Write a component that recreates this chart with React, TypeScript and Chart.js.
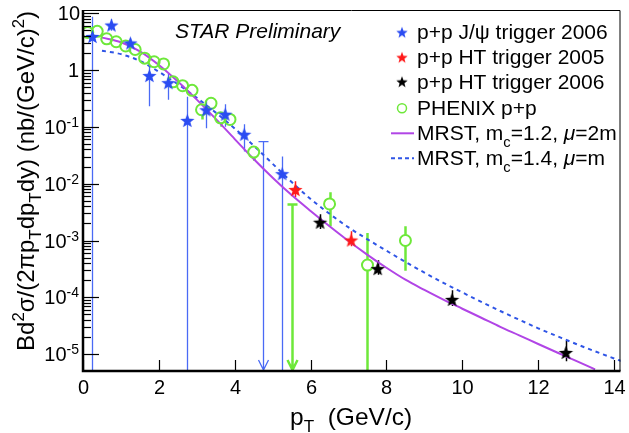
import React, { useEffect, useRef } from 'react';
import { Chart, registerables } from 'chart.js';

Chart.register(...registerables);

const FONT = '"Liberation Sans", Arial, Helvetica, sans-serif';

// ---- STAR p+p J/psi trigger 2006 (blue stars); lo = 0 means the bar runs down to the axis
const jpsiX = [0.25, 0.75, 1.25, 1.75, 2.25, 2.75, 3.25, 3.75, 4.25, 5.25];
const jpsiY = [3.9, 6.2, 3.0, 0.8, 0.6, 0.13, 0.2, 0.167, 0.074, 0.015];
const jpsiHi = [8.7, 7.8, 3.6, 1.3, 0.85, 0.34, 0.3, 0.25, 0.111, 0.03];
const jpsiLo = [0, 4.9, 2.0, 0.23, 0.3, 0, 0.095, 0.1, 0.037, 0];
const jpsiLimX = [4.75];
const jpsiLimY = [0.055];

// ---- STAR p+p HT trigger 2005 (red stars)
const ht05X = [5.6, 7.07];
const ht05Y = [7.9e-3, 1.02e-3];
const ht05Hi = [0.011, 1.45e-3];
const ht05Lo = [5.8e-3, 7.9e-4];

// ---- STAR p+p HT trigger 2006 (black stars)
const ht06X = [6.25, 7.77, 9.73, 12.73];
const ht06Y = [2.1e-3, 3.2e-4, 9.2e-5, 1.07e-5];
const ht06Hi = [2.9e-3, 4.5e-4, 1.33e-4, 1.7e-5];
const ht06Lo = [1.6e-3, 2.5e-4, 7e-5, 7.5e-6];

// ---- PHENIX p+p (open green circles)
const phenixX = [0.125, 0.375, 0.625, 0.875, 1.125, 1.375, 1.625, 1.875, 2.125, 2.375, 2.625, 2.875, 3.125, 3.375, 3.625, 3.875, 4.5, 6.5, 7.5, 8.5];
const phenixY = [4.6, 4.8, 3.55, 3.15, 2.65, 2.3, 1.62, 1.4, 1.28, 0.62, 0.53, 0.44, 0.2, 0.26, 0.144, 0.135, 0.036, 4.4e-3, 3.7e-4, 1.0e-3];
const phenixHi = [4.9, 5.1, 3.8, 3.35, 2.8, 2.45, 1.72, 1.5, 1.37, 0.66, 0.57, 0.47, 0.215, 0.28, 0.155, 0.145, 0.04, 7.1e-3, 1.35e-3, 1.78e-3];
const phenixLo = [4.3, 4.5, 3.3, 2.95, 2.5, 2.15, 1.52, 1.3, 1.19, 0.58, 0.49, 0.41, 0.135, 0.24, 0.1, 0.125, 0.025, 1.78e-3, 0, 2.95e-4];
const phenixLimX = [5.5];
const phenixLimY = [4.3e-3];

// ---- MRST, mc=1.2, mu=2m (solid violet)
const mrst12X = [0.5, 1, 1.5, 2, 2.5, 3, 3.5, 4, 4.5, 5, 5.5, 6, 6.5, 7, 7.5, 8, 8.5, 9, 9.5, 10, 10.5, 11, 11.5, 12, 12.5, 13, 13.5];
const mrst12Y = [3.72, 3.09, 2.14, 1.23, 0.63, 0.302, 0.138, 0.061, 0.0272, 0.01274, 6.3e-3, 3.31e-3, 1.78e-3, 9.8e-4, 5.6e-4, 3.31e-4, 2.04e-4, 1.35e-4, 9.1e-5, 6.3e-5, 4.37e-5, 3.02e-5, 2.14e-5, 1.51e-5, 1.07e-5, 7.6e-6, 5.4e-6];

// ---- MRST, mc=1.4, mu=m (dashed blue)
const mrst14X = [0.5, 1, 1.5, 2, 2.5, 3, 3.5, 4, 4.5, 5, 5.5, 6, 6.5, 7, 7.5, 8, 8.5, 9, 9.5, 10, 10.5, 11, 11.5, 12, 12.5, 13, 13.5, 14, 14.5];
const mrst14Y = [2.19, 1.905, 1.445, 0.933, 0.562, 0.324, 0.178, 0.0933, 0.0468, 0.0224, 0.0107, 5.37e-3, 2.95e-3, 1.7e-3, 1.05e-3, 6.6e-4, 4.22e-4, 2.72e-4, 1.8e-4, 1.22e-4, 8.3e-5, 5.75e-5, 4.03e-5, 2.85e-5, 2.07e-5, 1.51e-5, 1.12e-5, 8.4e-6, 6.4e-6];

// ---- axes
const xMin = 0;
const xMax = 14.17;
const yMin = 5.05e-6;
const yMax = 11.4;
const xTicks = [0, 2, 4, 6, 8, 10, 12, 14];
const yDecades = [-5, -4, -3, -2, -1, 0, 1];

const C_BLUE = '#2b4cf2';
const C_BLUE_BAR = '#4a6af5';
const C_RED = '#ff1a1a';
const C_BLACK = '#000000';
const C_GREEN = '#6ee83a';
const C_VIOLET = '#b145e6';
const C_DASH = '#2f55e6';

type Part = { t: string; k?: 'sub' | 'sup' | 'it' };

function starImage(color: string, R: number) {
  const size = Math.ceil(R * 2 + 2);
  const c = document.createElement('canvas');
  c.width = size;
  c.height = size;
  const g = c.getContext('2d')!;
  const cx = size / 2;
  const cy = size / 2 + R * 0.1;
  const r = R * 0.42;
  g.beginPath();
  for (let i = 0; i < 10; i++) {
    const a = -Math.PI / 2 + (i * Math.PI) / 5;
    const rad = i % 2 === 0 ? R : r;
    g.lineTo(cx + rad * Math.cos(a), cy + rad * Math.sin(a));
  }
  g.closePath();
  g.fillStyle = color;
  g.fill();
  return c;
}

function richWidth(ctx: CanvasRenderingContext2D, parts: Part[], size: number) {
  let w = 0;
  for (const p of parts) {
    const s = p.k === 'sub' || p.k === 'sup' ? size * 0.7 : size;
    ctx.font = `${p.k === 'it' ? 'italic ' : ''}${s}px ${FONT}`;
    w += ctx.measureText(p.t).width;
  }
  return w;
}

function drawRich(ctx: CanvasRenderingContext2D, parts: Part[], x: number, y: number, size: number) {
  let cx = x;
  for (const p of parts) {
    const small = p.k === 'sub' || p.k === 'sup';
    const s = small ? size * 0.7 : size;
    ctx.font = `${p.k === 'it' ? 'italic ' : ''}${s}px ${FONT}`;
    const dy = p.k === 'sub' ? size * 0.3 : p.k === 'sup' ? -size * 0.42 : 0;
    ctx.fillText(p.t, cx, y + dy);
    cx += ctx.measureText(p.t).width;
  }
  return cx;
}

const yTitle: Part[] = [
  { t: 'Bd' }, { t: '2', k: 'sup' }, { t: 'σ/(2πp' }, { t: 'T', k: 'sub' }, { t: 'dp' }, { t: 'T', k: 'sub' },
  { t: 'dy) (nb/(GeV/c)' }, { t: '2', k: 'sup' }, { t: ')' },
];
const xTitle: Part[] = [{ t: 'p' }, { t: 'T', k: 'sub' }, { t: '  (GeV/c)' }];

const legendRows: { parts: Part[]; kind: string; color: string }[] = [
  { parts: [{ t: 'p+p J/ψ trigger 2006' }], kind: 'star', color: C_BLUE },
  { parts: [{ t: 'p+p HT trigger 2005' }], kind: 'star', color: C_RED },
  { parts: [{ t: 'p+p HT trigger 2006' }], kind: 'star', color: C_BLACK },
  { parts: [{ t: 'PHENIX p+p' }], kind: 'circle', color: C_GREEN },
  { parts: [{ t: 'MRST, m' }, { t: 'c', k: 'sub' }, { t: '=1.2, ' }, { t: 'μ', k: 'it' }, { t: '=2m' }], kind: 'line', color: C_VIOLET },
  { parts: [{ t: 'MRST, m' }, { t: 'c', k: 'sub' }, { t: '=1.4, ' }, { t: 'μ', k: 'it' }, { t: '=m' }], kind: 'dash', color: C_DASH },
];

function pts(xs: number[], ys: number[]) {
  return xs.map((x, i) => ({ x, y: ys[i] }));
}

const rootPlugin = {
  id: 'rootStyle',
  beforeDatasetsDraw(chart: any) {
    const ctx: CanvasRenderingContext2D = chart.ctx;
    const xs = chart.scales.x;
    const ys = chart.scales.y;
    const area = chart.chartArea;
    ctx.save();
    ctx.beginPath();
    ctx.rect(area.left, area.top, area.right - area.left, area.bottom - area.top);
    ctx.clip();
    const bars = (X: number[], Y: number[], Hi: number[], Lo: number[], color: string, w: number, gap: number) => {
      ctx.strokeStyle = color;
      ctx.lineWidth = w;
      X.forEach((x, i) => {
        const px = Math.round(xs.getPixelForValue(x)) + 0.5;
        const py = ys.getPixelForValue(Y[i]);
        const top = ys.getPixelForValue(Hi[i]);
        const bot = Lo[i] > 0 ? ys.getPixelForValue(Lo[i]) : area.bottom + 5;
        ctx.beginPath();
        if (top < py - gap) {
          ctx.moveTo(px, top);
          ctx.lineTo(px, py - gap);
        }
        if (bot > py + gap) {
          ctx.moveTo(px, py + gap);
          ctx.lineTo(px, bot);
        }
        ctx.stroke();
      });
    };
    const limits = (X: number[], Y: number[], color: string, w: number) => {
      ctx.strokeStyle = color;
      ctx.lineWidth = w;
      X.forEach((x, i) => {
        const px = Math.round(xs.getPixelForValue(x)) + 0.5;
        const top = ys.getPixelForValue(Y[i]);
        const bot = area.bottom - 1;
        ctx.beginPath();
        ctx.moveTo(px - 5, top);
        ctx.lineTo(px + 5, top);
        ctx.moveTo(px, top);
        ctx.lineTo(px, bot);
        ctx.moveTo(px - 5, bot - 10);
        ctx.lineTo(px, bot);
        ctx.lineTo(px + 5, bot - 10);
        ctx.stroke();
      });
    };
    bars(jpsiX, jpsiY, jpsiHi, jpsiLo, C_BLUE_BAR, 1.3, 0);
    bars(ht05X, ht05Y, ht05Hi, ht05Lo, C_RED, 1.5, 0);
    bars(ht06X, ht06Y, ht06Hi, ht06Lo, C_BLACK, 1.5, 0);
    bars(phenixX, phenixY, phenixHi, phenixLo, C_GREEN, 2.5, 5.5);
    limits(jpsiLimX, jpsiLimY, C_BLUE_BAR, 1.3);
    limits(phenixLimX, phenixLimY, C_GREEN, 2.5);
    ctx.restore();
  },
  afterDraw(chart: any) {
    const ctx: CanvasRenderingContext2D = chart.ctx;
    const xs = chart.scales.x;
    const ys = chart.scales.y;
    const a = chart.chartArea;
    ctx.save();
    // frame
    ctx.strokeStyle = '#000';
    ctx.lineWidth = 1;
    ctx.beginPath();
    ctx.moveTo(a.left, a.top + 0.5);
    ctx.lineTo(a.right - 0.5, a.top + 0.5);
    ctx.lineTo(a.right - 0.5, a.bottom);
    ctx.stroke();
    ctx.lineWidth = 2.5;
    ctx.beginPath();
    ctx.moveTo(a.left, a.top);
    ctx.lineTo(a.left, a.bottom);
    ctx.lineTo(a.right, a.bottom);
    ctx.stroke();
    // x ticks
    ctx.lineWidth = 1.2;
    ctx.fillStyle = '#000';
    ctx.textAlign = 'center';
    ctx.textBaseline = 'alphabetic';
    ctx.font = `20px ${FONT}`;
    for (const t of xTicks) {
      const px = Math.round(xs.getPixelForValue(t)) + 0.5;
      ctx.beginPath();
      ctx.moveTo(px, a.bottom);
      ctx.lineTo(px, a.bottom - 11);
      ctx.stroke();
      ctx.fillText(String(t), px, a.bottom + 23);
    }
    // y ticks
    ctx.lineWidth = 1.2;
    for (const d of yDecades) {
      for (let m = 1; m <= 9; m++) {
        const v = m * Math.pow(10, d);
        if (v < yMin || v > yMax) continue;
        const py = Math.round(ys.getPixelForValue(v)) + 0.5;
        ctx.beginPath();
        ctx.moveTo(a.left, py);
        ctx.lineTo(a.left + (m === 1 ? 16 : 8), py);
        ctx.stroke();
      }
    }
    // y tick labels
    ctx.textAlign = 'right';
    for (const d of yDecades) {
      const py = ys.getPixelForValue(Math.pow(10, d));
      const right = 79;
      if (d === 0) {
        ctx.font = `20px ${FONT}`;
        ctx.fillText('1', right, py + 7);
      } else if (d === 1) {
        ctx.font = `20px ${FONT}`;
        ctx.fillText('10', right + 1, py + 7);
      } else {
        ctx.font = `14px ${FONT}`;
        const sup = String(d);
        ctx.fillText(sup, right, py - 0);
        const sw = ctx.measureText(sup).width;
        ctx.font = `20px ${FONT}`;
        ctx.fillText('10', right - sw, py + 7);
      }
    }
    ctx.textAlign = 'left';
    // x title
    drawRich(ctx, xTitle, 290, 425, 24.5);
    // y title (rotated)
    const yw = richWidth(ctx, yTitle, 24);
    ctx.save();
    ctx.translate(34, 11 + yw);
    ctx.rotate(-Math.PI / 2);
    drawRich(ctx, yTitle, 0, 0, 24);
    ctx.restore();
    // STAR Preliminary
    ctx.font = `italic 21px ${FONT}`;
    ctx.fillText('STAR Preliminary', 175, 38);
    // legend
    const rowsY = [32.3, 57.3, 81.7, 108.3, 133.3, 158.3];
    legendRows.forEach((row, i) => {
      const cy = rowsY[i];
      const mx = 402;
      if (row.kind === 'star') {
        const img = starImage(row.color, 6);
        ctx.drawImage(img, mx - img.width / 2, cy - img.height / 2);
      } else if (row.kind === 'circle') {
        ctx.strokeStyle = row.color;
        ctx.lineWidth = 1.5;
        ctx.beginPath();
        ctx.arc(mx, cy, 4.5, 0, Math.PI * 2);
        ctx.stroke();
      } else {
        ctx.strokeStyle = row.color;
        ctx.lineWidth = 2;
        ctx.setLineDash(row.kind === 'dash' ? [4, 3] : []);
        ctx.beginPath();
        ctx.moveTo(391, cy);
        ctx.lineTo(414, cy);
        ctx.stroke();
        ctx.setLineDash([]);
      }
      ctx.fillStyle = '#000';
      drawRich(ctx, row.parts, 417, cy + 7, 21);
    });
    ctx.restore();
  },
};

export default function App() {
  const ref = useRef<HTMLCanvasElement | null>(null);
  useEffect(() => {
    if (!ref.current) return;
    const starBlue = starImage(C_BLUE, 7.5);
    const starRed = starImage(C_RED, 7.5);
    const starBlack = starImage(C_BLACK, 7.5);
    const chart = new Chart(ref.current, {
      type: 'scatter',
      data: {
        datasets: [
          { label: 'p+p J/ψ trigger 2006', data: pts(jpsiX, jpsiY), pointStyle: starBlue as any, pointRadius: 7.5 },
          { label: 'p+p HT trigger 2005', data: pts(ht05X, ht05Y), pointStyle: starRed as any, pointRadius: 7.5 },
          { label: 'p+p HT trigger 2006', data: pts(ht06X, ht06Y), pointStyle: starBlack as any, pointRadius: 7.5 },
          {
            label: 'PHENIX p+p', data: pts(phenixX, phenixY), pointStyle: 'circle', pointRadius: 5.5,
            borderColor: C_GREEN, backgroundColor: 'rgba(0,0,0,0)', pointBorderWidth: 2,
          },
          {
            label: 'MRST, mc=1.2, μ=2m', data: pts(mrst12X, mrst12Y), showLine: true, pointRadius: 0,
            borderColor: C_VIOLET, borderWidth: 2, cubicInterpolationMode: 'monotone', fill: false,
          },
          {
            label: 'MRST, mc=1.4, μ=m', data: pts(mrst14X, mrst14Y), showLine: true, pointRadius: 0,
            borderColor: C_DASH, borderWidth: 2, borderDash: [4, 4], cubicInterpolationMode: 'monotone', fill: false,
          },
        ],
      },
      options: {
        animation: false,
        responsive: false,
        maintainAspectRatio: false,
        devicePixelRatio: 1,
        layout: { padding: { left: 83, right: 4, top: 10, bottom: 62 } },
        plugins: { legend: { display: false }, tooltip: { enabled: false } },
        scales: {
          x: { type: 'linear', min: xMin, max: xMax, display: false },
          y: { type: 'logarithmic', min: yMin, max: yMax, display: false },
        },
      },
      plugins: [rootPlugin],
    });
    return () => chart.destroy();
  }, []);
  return (
    <div style={{ position: 'fixed', left: 0, top: 0, width: 629, height: 433, background: '#fff' }}>
      <canvas ref={ref} width={629} height={433} style={{ display: 'block', width: 629, height: 433 }} />
    </div>
  );
}
